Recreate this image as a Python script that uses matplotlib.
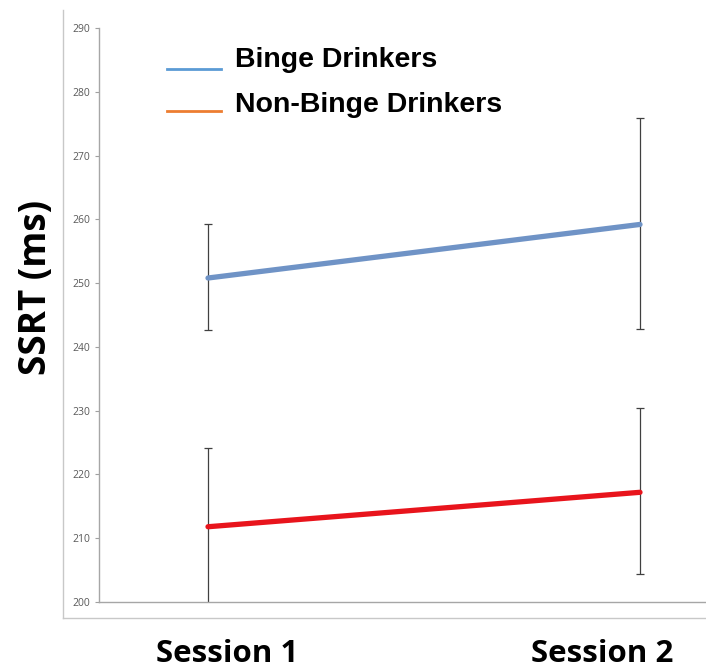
import matplotlib
matplotlib.use("Agg")
import matplotlib.pyplot as plt
from matplotlib.lines import Line2D

sessions = ["Session 1", "Session 2"]
binge_mean = [250.8, 259.2]
binge_low = [242.6, 242.8]
binge_high = [259.2, 275.9]
nonbinge_mean = [211.8, 217.2]
nonbinge_low = [198.0, 204.4]
nonbinge_high = [224.1, 230.4]
yticks = [200, 210, 220, 230, 240, 250, 260, 270, 280, 290]
legend_labels = ["Binge Drinkers", "Non-Binge Drinkers"]
legend_colors = ["#5b9bd5", "#ed7d31"]

W, H = 706, 666
fig = plt.figure(figsize=(W / 100, H / 100), dpi=100)
ax = fig.add_axes([99 / W, 1 - 602 / H, (W - 99) / W, (602 - 28) / H])

x = [0, 1]
grey = "#404040"

def err(mean, low, high):
    return [[m - l for m, l in zip(mean, low)], [h - m for m, h in zip(mean, high)]]

ax.errorbar(x, binge_mean, yerr=err(binge_mean, binge_low, binge_high),
            fmt="none", ecolor=grey, elinewidth=0.9, capsize=3, capthick=0.9, zorder=2)
ax.errorbar(x, nonbinge_mean, yerr=err(nonbinge_mean, nonbinge_low, nonbinge_high),
            fmt="none", ecolor=grey, elinewidth=0.9, capsize=3, capthick=0.9, zorder=2)
ax.plot(x, binge_mean, color="#6f93c6", lw=3.8, solid_capstyle="round", zorder=3)
ax.plot(x, nonbinge_mean, color="#e8141c", lw=3.8, solid_capstyle="round", zorder=3)

ax.set_xlim(-109 / 432, 1 + 66 / 432)
ax.set_ylim(200, 290)
ax.set_yticks(yticks)
ax.set_xticks([])
for t in ax.get_yticklabels():
    t.set_fontfamily("Open Sans")
ax.tick_params(axis="y", labelsize=7.5, labelcolor="#595959", color="#a0a0a0",
               length=3, width=0.8, pad=3)
for s in ["top", "right"]:
    ax.spines[s].set_visible(False)
for s in ["left", "bottom"]:
    ax.spines[s].set_color("#a6a6a6")
    ax.spines[s].set_linewidth(1.0)

# legend: short coloured line followed by bold label
for label, color, ly, ty in zip(legend_labels, legend_colors, [69, 111], [67, 112]):
    fig.add_artist(Line2D([167 / W, 221 / W], [1 - ly / H, 1 - ly / H],
                          transform=fig.transFigure, color=color, lw=2))
    fig.text(235 / W, 1 - ty / H, label, ha="left", va="baseline",
             fontfamily="Liberation Sans", fontweight="bold", fontsize=20.5)

# outer chart frame
fig.add_artist(Line2D([63 / W, 63 / W], [1 - 10 / H, 1 - 618 / H],
                      transform=fig.transFigure, color="#c8c8c8", lw=1))
fig.add_artist(Line2D([63 / W, 1], [1 - 618 / H, 1 - 618 / H],
                      transform=fig.transFigure, color="#c8c8c8", lw=1))

fig.text(36 / W, 1 - 287 / H, "SSRT (ms)", rotation=90, ha="center", va="center",
         fontfamily="Open Sans", fontweight="bold", fontsize=26.5)
for label, cx in zip(sessions, [227, 602]):
    fig.text(cx / W, 1 - 662 / H, label, ha="center", va="baseline",
             fontfamily="Open Sans", fontweight="bold", fontsize=22.5)

fig.savefig("out.png", dpi=100)
